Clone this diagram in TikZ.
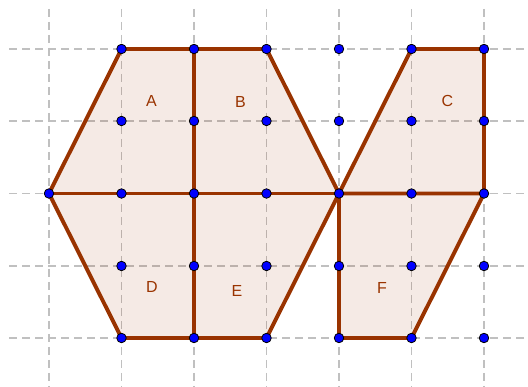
\documentclass[tikz,border=0pt]{standalone}
\usepackage{fontspec}
\setmainfont{Liberation Sans}
\definecolor{edge}{RGB}{153,51,0}
\definecolor{gridc}{RGB}{192,192,192}
\begin{document}
\begin{tikzpicture}[x=1pt,y=-1pt,
  gridline/.style={gridc,line width=1.1pt,dash pattern=on 8pt off 5pt},
  region/.style={fill=edge,fill opacity=0.1,draw=none},
  side/.style={edge,line width=3.9pt,line join=round,line cap=round},
  pt/.style={circle,fill=blue,draw=black,line width=0.8pt,inner sep=0pt,minimum size=9.5pt},
  lab/.style={text=edge,font=\fontsize{16}{16}\selectfont}]
\useasboundingbox (0,0) rectangle (528,387);
% grid
\foreach \x in {49,121.5,194,266.5,339,411.5,484}
  \draw[gridline] (\x,9) -- (\x,387);
\foreach \y in {49,121,193.5,266,338}
  \draw[gridline] (9,\y) -- (528,\y);
% named coordinates
\coordinate (a1) at (121.5,49);
\coordinate (a2) at (194,49);
\coordinate (a3) at (266.5,49);
\coordinate (m0) at (49,193.5);
\coordinate (m2) at (194,193.5);
\coordinate (m4) at (339,193.5);
\coordinate (m6) at (484,193.5);
\coordinate (b1) at (121.5,338);
\coordinate (b2) at (194,338);
\coordinate (b3) at (266.5,338);
\coordinate (b4) at (339,338);
\coordinate (b5) at (411.5,338);
\coordinate (c5) at (411.5,49);
\coordinate (c6) at (484,49);
% fills
\fill[region] (a1) -- (a3) -- (m4) -- (b3) -- (b1) -- (m0) -- cycle;
\fill[region] (c5) -- (c6) -- (m6) -- (m4) -- cycle;
\fill[region] (m4) -- (m6) -- (b5) -- (b4) -- cycle;
% outlines
\draw[side] (a1) -- (a3) -- (m4) -- (b3) -- (b1) -- (m0) -- cycle;
\draw[side] (a2) -- (b2);
\draw[side] (m0) -- (m4);
\draw[side] (c5) -- (c6) -- (m6) -- (m4) -- cycle;
\draw[side] (m6) -- (b5) -- (b4) -- (m4);
% points
\node[pt] (p0) at (49,193.5) {};
\foreach \x/\i in {121.5/1,194/2,266.5/3,339/4,411.5/5,484/6}
  \foreach \y/\j in {49/0,121/1,193.5/2,266/3,338/4}
    \node[pt] (p\i\j) at (\x,\y) {};
% labels
\node[lab] (A) at (151.5,101) {A};
\node[lab] (B) at (240.5,101.5) {B};
\node[lab] (C) at (447.5,101) {C};
\node[lab] (D) at (152,287) {D};
\node[lab] (E) at (237,291) {E};
\node[lab] (F) at (382,288) {F};
\end{tikzpicture}
\end{document}
